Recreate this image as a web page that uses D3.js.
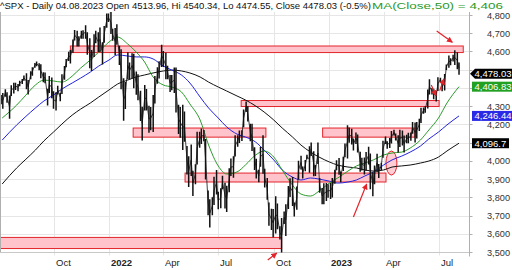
<!DOCTYPE html>
<html><head><meta charset="utf-8">
<script src="https://cdn.jsdelivr.net/npm/d3@7"></script>
<style>body{margin:0;background:#fff;} svg{display:block;font-family:"Liberation Sans",Arial,sans-serif;}</style>
</head><body><svg id="c" width="512" height="270"></svg>
<script>
// ---- price data: half-week ranges (Mon-Wed = early, Thu-Fri = late) ----
const firstWeek = "2021-07-05", lastWeek = "2023-07-31";
const highEarly = [4361,4393,4359,4429,4422,4449,4480,4492,4537,4536,4486,4396,4457,4376,4372,4520,4598,4665,4714,4714,4744,4672,4695,4705,4650,4808,
 4818,4729,4632,4453,4595,4590,4490,4385,4416,4302,4361,4513,4637,4593,4471,4512,4308,4308,4081,4090,3982,4160,4169,3837,3800,3950,3850,3880,3960,4025,4140,4168,4325,4203,4074,3951,4140,3906,3737,3806,3641,3722,3862,3911,3859,4028,4004,4080,4052,4101,3851,3878,
 3879,3951,4016,4023,4195,4176,4156,4050,4018,4078,3937,4039,3990,4133,4126,4170,4141,4167,4143,4155,4210,4231,4293,4391,4400,4383,4456,4476,4578,4582,4595];
const lowEarly = [4313,4355,4233,4372,4385,4424,4395,4450,4513,4500,4434,4306,4346,4279,4329,4447,4550,4595,4630,4672,4672,4510,4573,4600,4531,4733,
 4699,4582,4529,4222,4451,4455,4365,4221,4279,4157,4161,4425,4517,4450,4381,4375,4150,4062,3928,3920,3875,4074,4110,3705,3705,3818,3743,3742,3830,3910,4080,4112,4270,4110,3953,3886,3932,3789,3623,3604,3571,3657,3739,3755,3735,3955,3945,3938,3918,3985,3764,3783,
 3794,3877,3926,3947,4015,4092,4095,3943,3928,3983,3808,3940,3951,4095,4073,4142,4049,4087,4099,4113,4103,4166,4261,4290,4367,4328,4437,4389,4514,4547,4505];
const highLate = [4372,4376,4415,4429,4440,4468,4444,4513,4545,4530,4485,4465,4382,4412,4475,4559,4608,4718,4684,4717,4705,4608,4713,4732,4740,4808,
 4725,4749,4612,4432,4540,4588,4475,4297,4394,4296,4465,4546,4603,4521,4471,4512,4296,4270,4025,3946,4159,4177,4120,3790,3913,3830,3918,3863,4013,4140,4167,4281,4300,4203,4012,4076,3957,3772,3736,3766,3686,3762,3905,3771,4001,3969,4034,4101,3977,3906,3877,3872,
 3906,4003,3942,4095,4183,4122,4144,4017,4048,4040,3975,3983,4110,4107,4164,4150,4171,4139,4154,4213,4213,4291,4299,4448,4395,4458,4423,4528,4563,4607,4540];
const lowLate = [4289,4321,4359,4391,4412,4442,4367,4470,4522,4456,4428,4375,4288,4367,4369,4516,4537,4663,4630,4672,4585,4495,4648,4600,4650,4765,
 4662,4640,4395,4287,4451,4401,4335,4115,4279,4171,4317,4455,4517,4450,4390,4268,4129,4108,3859,3810,3983,4095,3901,3637,3760,3737,3847,3722,3920,4026,4100,4187,4218,4057,3906,3970,3856,3647,3584,3627,3491,3590,3804,3698,3900,3906,4012,4030,3919,3828,3764,3800,
 3802,3951,3885,4022,4102,4060,4048,3950,3949,3847,3874,3909,4020,4069,4098,4114,4079,4048,4099,4152,4126,4210,4267,4366,4341,4386,4385,4501,4527,4528,4475];

// ---- moving averages (sampled) ----
const maDates = ["2021-07-08","2021-08-01","2021-08-15","2021-09-01","2021-09-15","2021-10-01","2021-10-15","2021-11-01","2021-11-15","2021-12-01","2021-12-15",
 "2022-01-01","2022-01-15","2022-02-01","2022-02-15","2022-03-01","2022-03-15","2022-04-01","2022-04-15","2022-05-01","2022-05-15","2022-06-01","2022-06-15",
 "2022-07-01","2022-07-15","2022-08-01","2022-08-15","2022-09-01","2022-09-15","2022-10-01","2022-10-15","2022-11-01","2022-11-15","2022-12-01","2022-12-15",
 "2023-01-01","2023-01-15","2023-02-01","2023-02-15","2023-03-01","2023-03-15","2023-04-01","2023-04-15","2023-05-01","2023-05-15","2023-06-01","2023-06-15",
 "2023-07-01","2023-07-15","2023-08-04"];
const ma50 = [4235,4306,4356,4416,4443,4438,4432,4465,4509,4553,4597,4652,4679,4641,4597,4542,4460,4416,4405,4378,4312,4224,4087,
 3972,3928,3939,3977,4032,4054,4021,3950,3867,3818,3807,3834,3878,3906,3944,3972,3988,4005,4032,4043,4048,4070,4114,4169,4235,4317,4406.83];
const ma100 = [4114,4197,4240,4290,4328,4361,4394,4427,4454,4487,4520,4553,4581,4575,4570,4570,4559,4520,4498,4471,4427,4350,4290,
 4235,4186,4147,4131,4103,4059,4005,3950,3911,3895,3906,3900,3889,3878,3884,3895,3917,3939,3977,4005,4026,4048,4081,4120,4158,4197,4246.44];
const ma200 = [3873,3961,4005,4059,4109,4158,4202,4251,4284,4317,4350,4389,4421,4443,4460,4471,4482,4493,4498,4493,4482,4460,4432,
 4405,4383,4356,4334,4301,4268,4224,4180,4131,4087,4048,4021,3994,3977,3966,3961,3950,3944,3950,3966,3972,3977,3988,3999,4021,4054,4096.7];

// ---- annotation zones: [startDate, endDate, lowPrice, highPrice] ----
const zoneStart = ["2021-10-29","2022-08-08","2022-02-10","2022-12-21","2022-05-07","2021-06-01"];
const zoneEnd   = ["2023-08-11","2023-07-02","2022-09-18","2023-05-23","2023-04-05","2022-10-14"];
const zoneLow   = [4594,4298,4130,4130,3884,3519];
const zoneHigh  = [4630,4331,4180,4180,3933,3580];
// arrows: [date, price] from -> to
const arrowFrom = [["2023-06-28",4712],["2022-09-21",3456],["2023-02-10",3692],["2023-06-19",4416],["2023-07-03",4385]];
const arrowTo   = [["2023-07-24",4650],["2022-10-06",3494],["2023-03-04",3873],["2023-06-27",4358],["2023-07-10",4450]];
const ellipseAt = ["2023-04-14",3988];

const yTickValues = [3500,3600,3700,3800,3900,4000,4100,4200,4300,4400,4500,4600,4700,4800];
const lastClose = 4478.03;
const titleMain = "^SPX - Daily 04.08.2023 Open 4513.96, Hi 4540.34, Lo 4474.55, Close 4478.03 (-0.5%) ";
const titleMA = "MA(Close,50) = 4,406";

// ---- drawing ----
const svg = d3.select("#c");
const parse = d3.utcParse("%Y-%m-%d");
const x = d3.scaleUtc().domain([parse("2021-10-01"), parse("2023-07-01")]).range([53.5, 438.5]);
const y = d3.scaleLinear().domain([3500, 4800]).range([252, 15]);
const L = 1, R = 469, T = 12, B = 252.5;
const RED = "#e3242b", PINK = "#ffc4cb";

const defs = svg.append("defs");
defs.append("clipPath").attr("id","pc").append("rect").attr("x",L).attr("y",T).attr("width",R-L).attr("height",B-T);
defs.append("marker").attr("id","ah").attr("viewBox","0 0 10 10").attr("refX",9).attr("refY",5)
  .attr("markerWidth",6).attr("markerHeight",6).attr("markerUnits","userSpaceOnUse").attr("orient","auto")
  .append("path").attr("d","M0,0L10,5L0,10z").attr("fill",RED);

// grid
const grid = svg.append("g");
grid.selectAll(".hg").data(yTickValues).join("line")
  .attr("x1",L).attr("x2",R).attr("y1",d=>Math.round(y(d))+0.5).attr("y2",d=>Math.round(y(d))+0.5)
  .attr("stroke","#e6e6e6");
const xTicks = d3.utcMonth.every(3).range(parse("2021-10-01"), parse("2023-07-02"));
grid.selectAll(".vg").data(xTicks).join("line")
  .attr("x1",d=>Math.round(x(d))+0.5).attr("x2",d=>Math.round(x(d))+0.5).attr("y1",T).attr("y2",B+3)
  .attr("stroke","#e6e6e6");

// frame
svg.append("line").attr("x1",0.5).attr("x2",0.5).attr("y1",T).attr("y2",B).attr("stroke","#b0b0b0");
svg.append("line").attr("x1",0).attr("x2",R).attr("y1",B).attr("y2",B).attr("stroke","#c8c8c8");
svg.append("line").attr("x1",R+0.5).attr("x2",R+0.5).attr("y1",T).attr("y2",B+4).attr("stroke","#b0b0b0");
svg.append("g").selectAll("line").data(yTickValues).join("line")
  .attr("x1",R+0.5).attr("x2",R+3.5).attr("y1",d=>Math.round(y(d))+0.5).attr("y2",d=>Math.round(y(d))+0.5).attr("stroke","#b0b0b0");

// x labels
svg.append("g").selectAll("text").data(xTicks).join("text")
  .attr("x",d=>Math.round(x(d))+2).attr("y",266).attr("font-size",9.5).attr("fill","#222")
  .attr("font-weight",d=>d.getUTCMonth()===0?"bold":"normal")
  .text(d=>d.getUTCMonth()===0?d3.utcFormat("%Y")(d):d3.utcFormat("%b")(d));

// value tags (computed first so covered tick labels are left out, as in the reference)
const tagValues = [lastClose, ma50[ma50.length-1], ma100[ma100.length-1], ma200[ma200.length-1]];
const visibleTicks = yTickValues.filter(v => tagValues.every(t => Math.abs(y(v)-y(t)) >= 8));

// y labels
svg.append("g").selectAll("text").data(visibleTicks).join("text")
  .attr("x",510).attr("y",d=>y(d)+3.5).attr("text-anchor","end").attr("font-size",9.2).attr("fill","#333")
  .text(d=>d3.format(",")(d));

const plot = svg.append("g").attr("clip-path","url(#pc)");

// zones
plot.selectAll(".zone").data(zoneStart.map((s,i)=>i)).join("rect")
  .attr("x",i=>x(parse(zoneStart[i]))).attr("width",i=>x(parse(zoneEnd[i]))-x(parse(zoneStart[i])))
  .attr("y",i=>y(zoneHigh[i])).attr("height",i=>y(zoneLow[i])-y(zoneHigh[i]))
  .attr("fill",PINK).attr("stroke",RED).attr("stroke-width",1);

// ellipse
plot.append("ellipse").attr("cx",x(parse(ellipseAt[0]))).attr("cy",y(ellipseAt[1])).attr("rx",5.5).attr("ry",12)
  .attr("fill",PINK).attr("fill-opacity",0.85).attr("stroke",RED).attr("stroke-width",1);

// moving averages
const maPts = vals => maDates.map((d,i)=>[x(parse(d)), y(vals[i])]);
const line = d3.line().curve(d3.curveMonotoneX);
[[ma200,"#111"],[ma100,"#2222dd"],[ma50,"#2a9a2a"]].forEach(([v,c])=>{
  plot.append("path").attr("d",line(maPts(v))).attr("fill","none").attr("stroke",c).attr("stroke-width",1);
});

// price bars
const weeks = d3.utcMonday.range(parse(firstWeek), d3.utcDay.offset(parse(lastWeek),1));
const bars = [];
weeks.forEach((w,i)=>{
  bars.push({d:d3.utcHour.offset(w,29), h:highEarly[i], l:lowEarly[i]});
  bars.push({d:d3.utcHour.offset(w,96), h:highLate[i], l:lowLate[i]});
});
plot.selectAll(".bar").data(bars).join("line")
  .attr("x1",b=>x(b.d)).attr("x2",b=>x(b.d)).attr("y1",b=>y(b.h)).attr("y2",b=>y(b.l)+0.5)
  .attr("stroke","#111").attr("stroke-width",1.5);
plot.selectAll(".lnk").data(bars.slice(1)).join("line")
  .attr("x1",(b,i)=>x(bars[i].d)).attr("x2",b=>x(b.d))
  .attr("y1",(b,i)=>y((bars[i].h+bars[i].l)/2)).attr("y2",b=>y((b.h+b.l)/2))
  .attr("stroke","#111").attr("stroke-width",0.8);

// arrows
svg.append("g").selectAll("line").data(arrowFrom.map((a,i)=>i)).join("line")
  .attr("x1",i=>x(parse(arrowFrom[i][0]))).attr("y1",i=>y(arrowFrom[i][1]))
  .attr("x2",i=>x(parse(arrowTo[i][0]))).attr("y2",i=>y(arrowTo[i][1]))
  .attr("stroke",RED).attr("stroke-width",1.2).attr("marker-end","url(#ah)");

// tags
const tagG = svg.append("g").attr("font-size",9.5);
const yc = y(lastClose);
tagG.append("path").attr("d",`M470,${yc}L475,${yc-5}L512,${yc-5}L512,${yc+5}L475,${yc+5}Z`).attr("fill","#000");
tagG.append("text").attr("x",474.5).attr("y",yc+3.4).attr("fill","#fff").text(d3.format(",.2f")(lastClose));
[[tagValues[1],"#22a022",",.2f"],[tagValues[2],"#2a2ae6",",.2f"],[tagValues[3],"#000",",.1f"]].forEach(([v,c,f])=>{
  const yy = y(v);
  tagG.append("rect").attr("x",472).attr("y",yy-5).attr("width",f===",.1f"?37:41).attr("height",10).attr("fill",c);
  tagG.append("text").attr("x",474.5).attr("y",yy+3.4).attr("fill","#fff").text(d3.format(f)(v));
});

// title
svg.append("text").attr("x",0).attr("y",9).attr("font-size",9.5).attr("fill","#111").text(titleMain)
  .attr("textLength",371).attr("lengthAdjust","spacingAndGlyphs");
svg.append("text").attr("x",372).attr("y",9).attr("font-size",9.5).attr("fill","#2a9a2a").text(titleMA)
  .attr("textLength",131).attr("lengthAdjust","spacingAndGlyphs");
</script></body></html>
